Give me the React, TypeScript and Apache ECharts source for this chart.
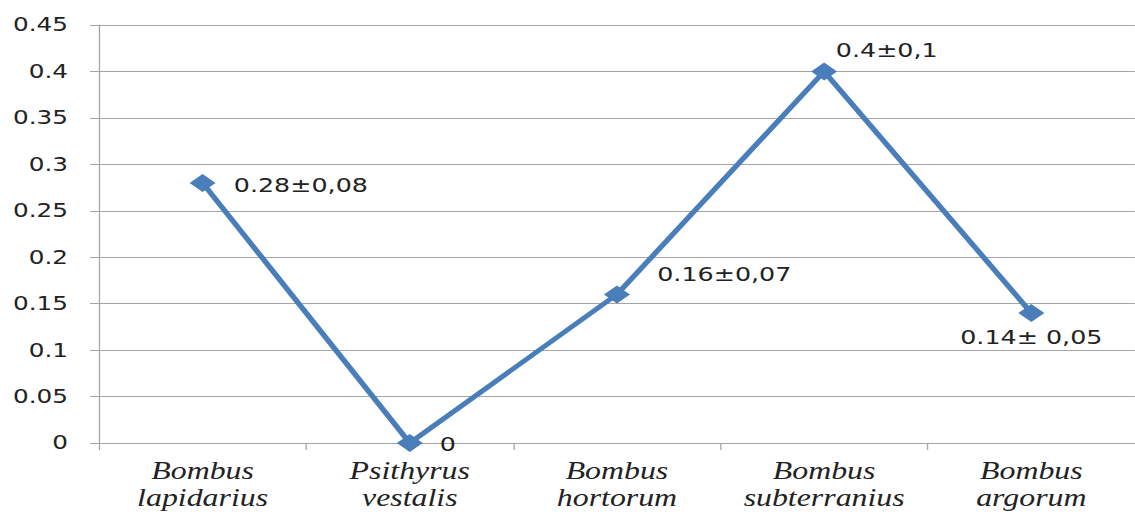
import React, { useEffect, useRef } from "react";
import * as echarts from "echarts";

// Species (two-line italic labels) and mean values with their spread
const categories = [
  "Bombus\nlapidarius",
  "Psithyrus\nvestalis",
  "Bombus\nhortorum",
  "Bombus\nsubterranius",
  "Bombus\nargorum",
];
const values = [0.28, 0, 0.16, 0.4, 0.14];
const valueLabels = ["0.28±0,08", "0", "0.16±0,07", "0.4±0,1", "0.14± 0,05"];

const W = 1135;
const H = 514;
// Wide, horizontally stretched look of the original figure
const STRETCH = 1.3;
const INNER_W = W / STRETCH;

// Per-point label placement
const labelPlacement: Array<{ position: string; offset: [number, number] }> = [
  { position: "right", offset: [9, 2] },
  { position: "right", offset: [8, 1] },
  { position: "right", offset: [16, -20] },
  { position: "right", offset: [-6, -21] },
  { position: "bottom", offset: [0, 0] },
];

const GRID_COLOR = "#a5a5a5";
const LINE_COLOR = "#4a7ebb";
const TEXT_COLOR = "#222222";

export default function App() {
  const ref = useRef<HTMLDivElement>(null);

  useEffect(() => {
    if (!ref.current) return;
    const chart = echarts.init(ref.current, undefined, { renderer: "svg" });
    chart.setOption({
      animation: false,
      backgroundColor: "#ffffff",
      grid: { left: 99 / STRETCH, right: 0, top: 25, bottom: 71, containLabel: false },
      xAxis: {
        type: "category",
        data: categories,
        boundaryGap: true,
        axisLine: { show: true, lineStyle: { color: GRID_COLOR, width: 1 } },
        axisTick: { show: true, length: 7, alignWithLabel: false, lineStyle: { color: GRID_COLOR } },
        axisLabel: {
          interval: 0,
          margin: 14,
          color: TEXT_COLOR,
          fontFamily: "Liberation Serif",
          fontStyle: "italic",
          fontSize: 24.5,
          lineHeight: 27,
        },
        splitLine: { show: false },
      },
      yAxis: {
        type: "value",
        min: 0,
        max: 0.45,
        interval: 0.05,
        axisLine: { show: true, lineStyle: { color: GRID_COLOR, width: 1 } },
        axisTick: { show: true, length: 9 / STRETCH, lineStyle: { color: GRID_COLOR } },
        axisLabel: {
          margin: 31 / STRETCH,
          color: TEXT_COLOR,
          fontFamily: "DejaVu Sans",
          fontSize: 19,
          formatter: (v: number) => String(parseFloat(v.toFixed(2))),
        },
        splitLine: { show: true, lineStyle: { color: GRID_COLOR, width: 1 } },
      },
      series: [
        {
          type: "line",
          data: values.map((v, i) => ({
            value: v,
            label: {
              show: true,
              position: labelPlacement[i].position,
              offset: labelPlacement[i].offset,
              distance: 5,
              formatter: valueLabels[i],
            },
          })),
          symbol: "diamond",
          symbolSize: [20, 18],
          lineStyle: { color: LINE_COLOR, width: 4.5 },
          itemStyle: { color: LINE_COLOR },
          label: {
            show: true,
            color: TEXT_COLOR,
            fontFamily: "DejaVu Sans",
            fontSize: 19.5,
          },
        },
      ],
    });
    return () => chart.dispose();
  }, []);

  return (
    <div
      style={{
        position: "fixed",
        left: 0,
        top: 0,
        width: W,
        height: H,
        overflow: "hidden",
        background: "#ffffff",
      }}
    >
      <div
        ref={ref}
        style={{
          width: INNER_W,
          height: H,
          transform: `scaleX(${STRETCH})`,
          transformOrigin: "0 0",
        }}
      />
    </div>
  );
}
